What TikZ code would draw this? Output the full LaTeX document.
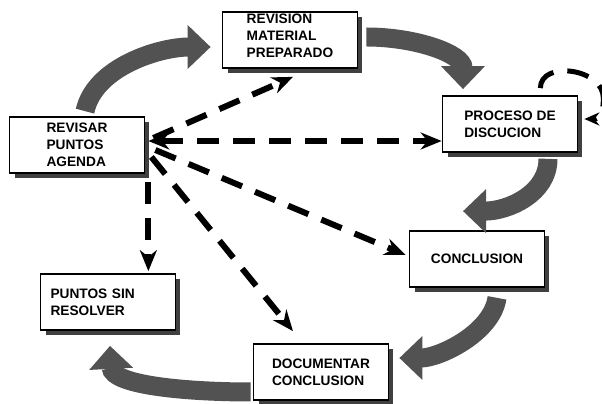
\documentclass[tikz,border=0pt]{standalone}
\usepackage{fontspec}
\setmainfont{Liberation Sans}
\usetikzlibrary{arrows.meta,shadows,calc}

\begin{document}
\begin{tikzpicture}[x=0.02cm,y=-0.02cm,
	caja/.style={draw,line width=1pt,fill=white,minimum width=2.7cm,minimum height=1.12cm,
		inner sep=0pt,align=left,font=\fontsize{7.8}{9.7}\selectfont\bfseries,
		drop shadow={shadow xshift=0.1cm,shadow yshift=-0.1cm,fill=black!75,opacity=1}},
	flecha/.style={line width=0.38cm,black!68,-{Triangle[length=0.46cm,width=0.85cm]}},
	rayas/.style={line width=0.12cm,dash pattern=on 0.44cm off 0.28cm,-{Stealth[length=0.42cm,width=0.34cm]}}]
	\useasboundingbox (0,0) rectangle (602,404);
	
	% cajas
	\node[caja] (agenda) at (77,145) {REVISAR\\PUNTOS\\AGENDA};
	\node[caja] (material) at (290,40) {REVISION\\MATERIAL\\PREPARADO\\[-5pt]\mbox{}};
	\node[caja] (proceso) at (510,124) {PROCESO DE\\DISCUCION};
	\node[caja] (conclusion) at (477,259) {CONCLUSION};
	\node[caja] (documentar) at (321,372) {DOCUMENTAR\\CONCLUSION};
	\node[caja,text width=2.3cm] (puntos) at (108,302) {PUNTOS SIN\\RESOLVER};
	
	% flechas grandes del ciclo
	\draw[flecha] ($(agenda.north)+(8,-5)$) .. controls +(10,-45) and +(-50,0) .. ($(material.west)+(-11,7)$);
	\draw[flecha] ($(material.east)+(8,-3)$) .. controls +(50,0) and +(0,-35) .. ($(proceso.north)+(-47,-6)$);
	\draw[flecha] ($(proceso.south)+(38,6)$) .. controls +(0,35) and +(45,0) .. ($(conclusion.north)+(-14,-19)$);
	\draw[flecha] ($(conclusion.south)+(20,10)$) .. controls +(-5,35) and +(40,0) .. ($(documentar.east)+(10,-14)$);
	\draw[flecha] ($(documentar.west)+(-2,20)$) .. controls +(-60,0) and +(2,40) .. ($(puntos.south)+(2,15)$);
	
	% lineas punteadas desde la agenda
	\draw[rayas] ($(agenda.east)+(8,-7)$) -- ($(material.south)+(3,8)$);
	\draw[rayas,{Stealth[length=0.42cm,width=0.34cm]}-{Stealth[length=0.42cm,width=0.34cm]}]
		($(agenda.east)+(3,-4)$) -- ($(agenda.east -| proceso.west)+(0,-4)$);
	\draw[rayas] ($(agenda.east)+(10,5)$) -- ($(conclusion.west)+(-3,-4)$);
	\draw[rayas] ($(agenda.east)+(6,12)$) -- ($(documentar.north)+(-28,-12)$);
	\draw[rayas] ($(agenda.south east)+(3,8)$) -- ($(agenda.south east |- puntos.north)+(3,-2)$);
	
	% lazo del proceso
	\draw[rayas,line width=0.1cm,-{Stealth[length=0.3cm,width=0.26cm]}]
		($(proceso.north east)+(-38,-7)$) .. controls +(0,-28) and +(0,-30) .. ($(proceso.north east)+(25,3)$)
		.. controls +(0,20) and +(12,0) .. ($(proceso.east)+(6,-5)$);
\end{tikzpicture}
\end{document}
